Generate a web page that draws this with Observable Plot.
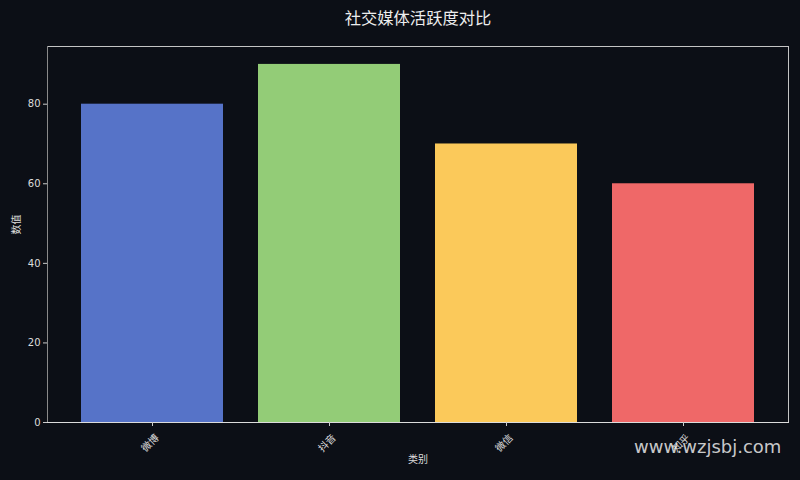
<!DOCTYPE html>
<html>
<head>
<meta charset="utf-8">
<script src="https://cdn.jsdelivr.net/npm/d3@7"></script>
<script src="https://cdn.jsdelivr.net/npm/@observablehq/plot@0.6"></script>
<style>
  html, body { margin: 0; padding: 0; background: #0c0f16; }
  #wrap { position: relative; width: 800px; height: 480px; overflow: hidden; }
  #wm { position: absolute; left: 634px; top: 436px; font-family: "DejaVu Sans", sans-serif; font-size: 18px; color: rgba(235,235,235,0.85); }
</style>
</head>
<body>
<div id="wrap"><div id="wm">www.wzjsbj.com</div></div>
<script>
const categories = ["微博", "抖音", "微信", "知乎"];
const values = [80, 90, 70, 60];
const colors = ["#5673c8", "#93cc77", "#fbc95a", "#ef6868"];
const yTicks = [0, 20, 40, 60, 80];
const title = "社交媒体活跃度对比";
const xLabel = "类别";
const yLabel = "数值";

const data = categories.map((c, i) => ({cat: c, val: values[i], color: colors[i]}));
const cjk = "'Noto Sans CJK SC', sans-serif";

const chart = Plot.plot({
  width: 800,
  height: 480,
  marginTop: 46,
  marginBottom: 58,
  marginLeft: 47,
  marginRight: 12,
  style: {background: "#0c0f16", color: "#cccccc", fontFamily: "'DejaVu Sans', sans-serif", fontSize: "10px", overflow: "visible"},
  x: {domain: categories, paddingInner: 0.2, paddingOuter: 0.19, axis: null},
  y: {domain: [0, 94.5], axis: null},
  marks: [
    Plot.barY(data, {x: "cat", y: "val", fill: "color"}),
    Plot.frame({stroke: "#c4c4c4", strokeWidth: 1}),
    Plot.frame({anchor: "left", stroke: "#8a8a8a", strokeWidth: 1}),
    Plot.frame({anchor: "bottom", stroke: "#dcdcdc", strokeWidth: 1}),
    Plot.axisY(yTicks, {tickSize: 4, tickPadding: 3, stroke: "#cccccc", fill: "#dddddd", fontSize: 10, label: null}),
    Plot.axisX({tickSize: 4, tickFormat: () => "", stroke: "#cccccc", label: null}),
    Plot.text(categories, {x: d => d, text: d => d, frameAnchor: "bottom", dy: 23, rotate: -45, textAnchor: "middle", fill: "#dddddd", fontSize: 10, fontFamily: cjk}),
    Plot.text([xLabel], {frameAnchor: "bottom", dy: 40, text: d => d, fill: "#dddddd", fontSize: 10, fontFamily: cjk}),
    Plot.text([yLabel], {frameAnchor: "left", dx: -31, rotate: -90, text: d => d, fill: "#dddddd", fontSize: 10, fontFamily: cjk}),
    Plot.text([title], {frameAnchor: "top", dy: -34, text: d => d, fill: "#eeeeee", fontSize: 16.3, fontFamily: cjk})
  ]
});
document.getElementById("wrap").insertBefore(chart, document.getElementById("wm"));
</script>
</body>
</html>
